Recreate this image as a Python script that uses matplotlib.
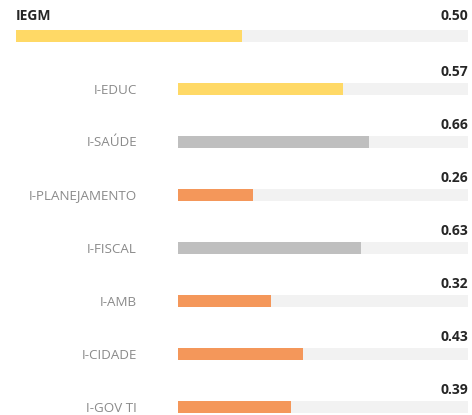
import matplotlib.pyplot as plt

plt.rcParams['font.family'] = ['Open Sans', 'DejaVu Sans']

total_label = 'IEGM'
total_value = 0.50
total_color = '#FFD966'

labels = ['I-EDUC', 'I-SAÚDE', 'I-PLANEJAMENTO', 'I-FISCAL', 'I-AMB', 'I-CIDADE', 'I-GOV TI']
values = [0.57, 0.66, 0.26, 0.63, 0.32, 0.43, 0.39]
colors = ['#FFD966', '#BFBFBF', '#F4975A', '#BFBFBF', '#F4975A', '#F4975A', '#F4975A']

W, H = 472, 415
bg = '#F2F2F2'
fig = plt.figure(figsize=(W / 100, H / 100), dpi=100)

# top total bar
ax0 = fig.add_axes([16 / W, (H - 42) / H, 452 / W, 12 / H])
ax0.barh(0, 1, height=1, color=bg)
ax0.barh(0, total_value, height=1, color=total_color)
ax0.set_xlim(0, 1)
ax0.set_ylim(-0.5, 0.5)
ax0.axis('off')
ax0.annotate(total_label, xy=(0, 0.5), xycoords='axes fraction', xytext=(0, 20),
             textcoords='offset pixels', ha='left', va='center', fontsize=10,
             fontweight='bold', color='#262626')
ax0.annotate(f'{total_value:.2f}', xy=(1, 0.5), xycoords='axes fraction', xytext=(0, 20),
             textcoords='offset pixels', ha='right', va='center', fontsize=10,
             fontweight='bold', color='#262626')

# sub-index bars
row = 53
top = 62.5
ax = fig.add_axes([178 / W, 0, 290 / W, (H - top) / H])
n_rows = (H - top) / row
ys = list(range(len(labels)))
ax.barh(ys, [1] * len(labels), height=12 / row, color=bg)
ax.barh(ys, values, height=12 / row, color=colors)
ax.set_xlim(0, 1)
ax.set_ylim(-0.5 + n_rows, -0.5)
ax.axis('off')
for y, lab, v in zip(ys, labels, values):
    ax.annotate(lab, xy=(0, y), xycoords=('axes fraction', 'data'), xytext=(-41, -1),
                textcoords='offset pixels', ha='right', va='center', fontsize=9.6,
                color='#8A8A8A')
    ax.annotate(f'{v:.2f}', xy=(1, y), xycoords=('axes fraction', 'data'), xytext=(0, 17),
                textcoords='offset pixels', ha='right', va='center', fontsize=10,
                fontweight='bold', color='#262626')

fig.savefig('out.png', dpi=100)
